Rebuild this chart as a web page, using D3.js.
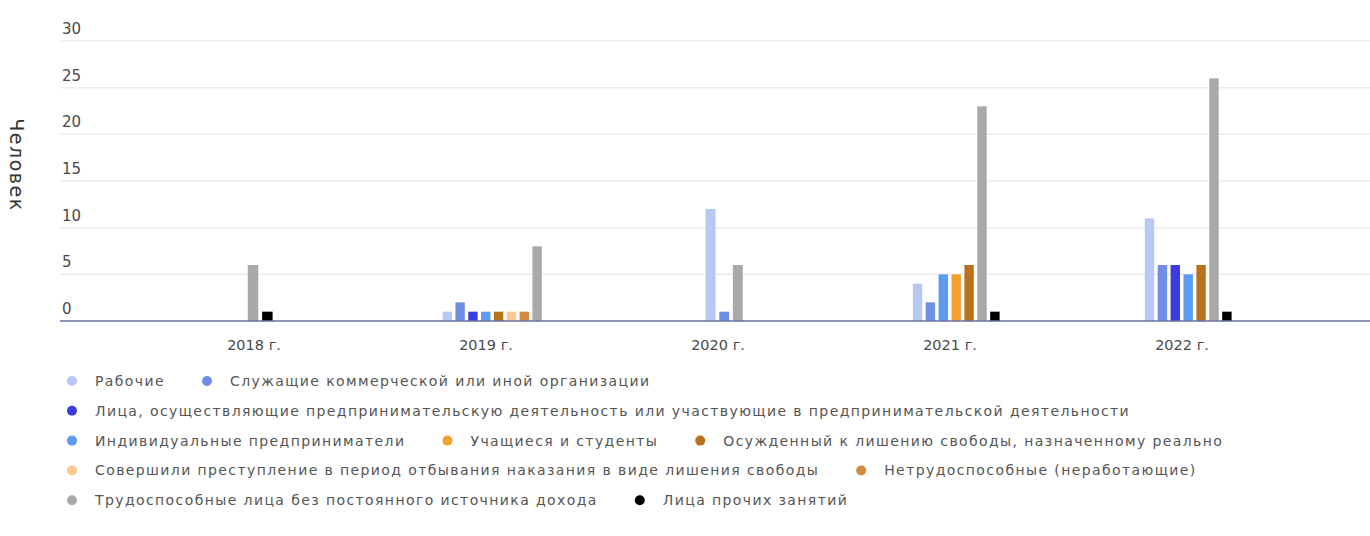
<!DOCTYPE html>
<html>
<head>
<meta charset="utf-8">
<script src="https://cdn.jsdelivr.net/npm/d3@7"></script>
<style>
  body { margin: 0; background: #fff; }
  svg text { font-family: "DejaVu Sans", sans-serif; }
</style>
</head>
<body>
<div id="chart"></div>
<script>
const years = ["2018 г.", "2019 г.", "2020 г.", "2021 г.", "2022 г."];
const yTicks = [0, 5, 10, 15, 20, 25, 30];

const seriesNames = [
  "Рабочие",
  "Служащие коммерческой или иной организации",
  "Лица, осуществляющие предпринимательскую деятельность или участвующие в предпринимательской деятельности",
  "Индивидуальные предприниматели",
  "Учащиеся и студенты",
  "Осужденный к лишению свободы, назначенному реально",
  "Совершили преступление в период отбывания наказания в виде лишения свободы",
  "Нетрудоспособные (неработающие)",
  "Трудоспособные лица без постоянного источника дохода",
  "Лица прочих занятий"
];
const seriesColors = ["#b7c9f2", "#6f8fe6", "#3b3be0", "#5b9bf0", "#f5a02e",
  "#b8721e", "#f8c993", "#d48a3e", "#a9a9a9", "#000000"];

const workers    = [0, 1, 12, 4, 11];
const employees  = [0, 2, 1, 2, 6];
const business   = [0, 1, 0, 0, 6];
const entrepren  = [0, 1, 0, 5, 5];
const students   = [0, 0, 0, 5, 0];
const convicted  = [0, 1, 0, 6, 6];
const inPrison   = [0, 1, 0, 0, 0];
const disabled   = [0, 1, 0, 0, 0];
const noIncome   = [6, 8, 6, 23, 26];
const other      = [1, 0, 0, 1, 1];
const seriesValues = [workers, employees, business, entrepren, students,
  convicted, inPrison, disabled, noIncome, other];

// legend rows as in the picture
const legendRows = [[0, 1], [2], [3, 4, 5], [6, 7], [8, 9]];

const W = 1370, H = 536;
const svg = d3.select("#chart").append("svg")
  .attr("width", W).attr("height", H);

const x = d3.scaleBand().domain(years).range([138, 1298]);
const y = d3.scaleLinear().domain([0, 30]).range([321, 41]);

// grid
svg.append("g").selectAll("line")
  .data(yTicks.filter(d => d > 0))
  .enter().append("line")
  .attr("x1", 60).attr("x2", W)
  .attr("y1", d => y(d)).attr("y2", d => y(d))
  .attr("stroke", "#ececec").attr("stroke-width", 1.5);

svg.append("g").selectAll("text")
  .data(yTicks)
  .enter().append("text")
  .attr("x", 62).attr("y", d => y(d) - 7)
  .attr("fill", "#4a4a4a").attr("font-size", 15)
  .text(d => d);

svg.append("text")
  .attr("transform", "translate(10,165) rotate(90)")
  .attr("text-anchor", "middle")
  .attr("fill", "#333").attr("font-size", 19)
  .attr("letter-spacing", 1.5)
  .text("Человек");

// bars: only non-zero series get a slot in each year
const step = 12.4;
years.forEach((yr, ci) => {
  const present = seriesValues.map((v, si) => si).filter(si => seriesValues[si][ci] > 0);
  const sub = d3.scaleBand().domain(present).paddingInner(0.27)
    .range([0, present.length * step]);
  const start = x(yr) + x.bandwidth() / 2 - present.length * step / 2 + step / 2;
  svg.append("g").selectAll("rect")
    .data(present)
    .enter().append("rect")
    .attr("x", si => start + sub(si))
    .attr("width", sub.bandwidth())
    .attr("y", si => y(seriesValues[si][ci]))
    .attr("height", si => y(0) - y(seriesValues[si][ci]))
    .attr("fill", si => seriesColors[si]);
});

// baseline
svg.append("line")
  .attr("x1", 60).attr("x2", W)
  .attr("y1", y(0)).attr("y2", y(0))
  .attr("stroke", "#6a72a0").attr("stroke-width", 1.5);

// x labels
svg.append("g").selectAll("text")
  .data(years)
  .enter().append("text")
  .attr("x", d => x(d) + x.bandwidth() / 2)
  .attr("y", 350)
  .attr("text-anchor", "middle")
  .attr("fill", "#4a4a4a").attr("font-size", 14.5)
  .text(d => d);

// legend
const legend = svg.append("g");
legendRows.forEach((row, ri) => {
  let cx = 72;
  const ly = 381 + ri * 29.8;
  row.forEach(si => {
    legend.append("circle")
      .attr("cx", cx).attr("cy", ly).attr("r", 5)
      .attr("fill", seriesColors[si]);
    const t = legend.append("text")
      .attr("x", cx + 23).attr("y", ly + 5)
      .attr("fill", "#555").attr("font-size", 14)
      .attr("letter-spacing", 1.4)
      .text(seriesNames[si]);
    cx += 23 + t.node().getComputedTextLength() + 42;
  });
});
</script>
</body>
</html>
